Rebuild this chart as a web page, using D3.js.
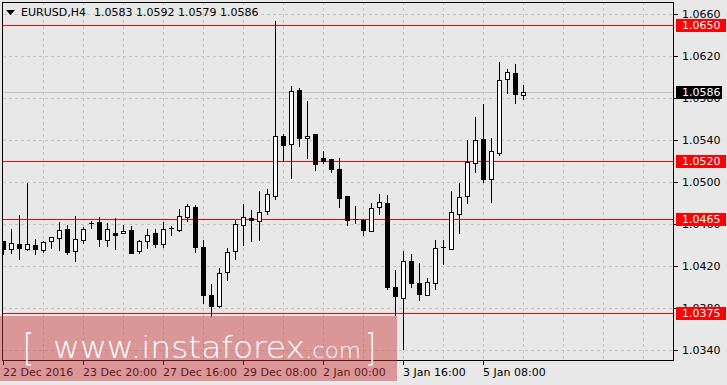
<!DOCTYPE html>
<html>
<head>
<meta charset="utf-8">
<script src="https://cdn.jsdelivr.net/npm/d3@7/dist/d3.min.js"></script>
<style>
  body { margin: 0; background: #e8e8e8; }
  svg { display: block; }
</style>
</head>
<body>
<svg id="chart" width="727" height="385"></svg>
<script>
// EURUSD H4 candles (one value per bar, left to right)
const openP  = [1.0444,1.0436,1.0441,1.0436,1.0440,1.0435,1.0444,1.0447,1.0455,1.0434,
                1.0445,1.0461,1.0462,1.0445,1.0451,1.0451,1.0454,1.0434,1.0444,1.0451,
                1.0441,1.0456,1.0454,1.0467,1.0476,1.0438,1.0392,1.0382,1.0414,1.0434,
                1.0459,1.0466,1.0463,1.0472,1.0487,1.0544,1.0536,1.0588,1.0542,1.0546,
                1.0523,1.0522,1.0512,1.0487,1.0465,1.0464,1.0453,1.0476,1.0480,1.0400,
                1.0390,1.0425,1.0404,1.0392,1.0404,1.0438,1.0436,1.0470,1.0487,1.0518,
                1.0541,1.0503,1.0528,1.0598,1.0604,1.0583];
const highP  = [1.0444,1.0455,1.0469,1.0499,1.0446,1.0444,1.0448,1.0462,1.0459,1.0468,
                1.0457,1.0463,1.0467,1.0461,1.0466,1.0459,1.0458,1.0445,1.0455,1.0455,
                1.0462,1.0458,1.0474,1.0479,1.0478,1.0445,1.0403,1.0418,1.0437,1.0464,
                1.0479,1.0473,1.0491,1.0493,1.0653,1.0546,1.0591,1.0590,1.0577,1.0546,
                1.0530,1.0522,1.0523,1.0487,1.0477,1.0465,1.0480,1.0489,1.0488,1.0416,
                1.0434,1.0431,1.0423,1.0409,1.0445,1.0445,1.0491,1.0499,1.0540,1.0562,
                1.0574,1.0542,1.0614,1.0608,1.0612,1.0592];
const lowP   = [1.0431,1.0432,1.0427,1.0435,1.0431,1.0433,1.0437,1.0435,1.0431,1.0425,
                1.0442,1.0456,1.0439,1.0439,1.0436,1.0451,1.0432,1.0432,1.0437,1.0438,
                1.0438,1.0450,1.0453,1.0463,1.0433,1.0385,1.0372,1.0381,1.0407,1.0427,
                1.0440,1.0444,1.0445,1.0470,1.0484,1.0520,1.0504,1.0534,1.0523,1.0511,
                1.0518,1.0510,1.0476,1.0459,1.0461,1.0450,1.0453,1.0470,1.0398,1.0373,
                1.0341,1.0400,1.0388,1.0392,1.0398,1.0422,1.0436,1.0451,1.0480,1.0510,
                1.0500,1.0481,1.0526,1.0585,1.0575,1.0579];
const closeP = [1.0436,1.0442,1.0437,1.0441,1.0436,1.0443,1.0448,1.0454,1.0433,1.0446,
                1.0455,1.0461,1.0446,1.0455,1.0450,1.0453,1.0432,1.0444,1.0450,1.0441,
                1.0455,1.0456,1.0468,1.0477,1.0438,1.0392,1.0382,1.0413,1.0433,1.0460,
                1.0467,1.0464,1.0471,1.0489,1.0544,1.0535,1.0587,1.0542,1.0544,1.0517,
                1.0520,1.0512,1.0485,1.0464,1.0465,1.0454,1.0475,1.0481,1.0400,1.0391,
                1.0425,1.0404,1.0393,1.0405,1.0437,1.0438,1.0471,1.0486,1.0519,1.0540,
                1.0503,1.0530,1.0597,1.0605,1.0584,1.0586];

const priceTicks = [1.0340,1.0380,1.0420,1.0460,1.0500,1.0540,1.0580,1.0620,1.0660];
const timeTickBars = [0,10,20,30,40,50,60];
const timeTickLabels = ["22 Dec 2016","23 Dec 20:00","27 Dec 16:00","29 Dec 08:00",
                        "2 Jan 00:00","3 Jan 16:00","5 Jan 08:00"];
const levelLines = [1.0650,1.0520,1.0465,1.0375];
const lastPrice = 1.0586;
const titleText = "EURUSD,H4";
const titleValues = "1.0583 1.0592 1.0579 1.0586";

const svg = d3.select("#chart");
const width = 727, height = 385;
const plot = { left: 3, right: 674, top: 2, bottom: 361 };

svg.append("rect")
    .attr("width", width).attr("height", height)
    .attr("fill", "#e8e8e8");

// bar index -> x, price -> y
const xScale = d3.scaleLinear().domain([0, 65]).range([3, 523]);
const yScale = d3.scaleLinear().domain([1.0340, 1.0660]).range([350, 14]);
const px = v => Math.round(v) + 0.5;

svg.append("clipPath").attr("id", "plotClip")
    .append("rect")
    .attr("x", plot.left).attr("y", plot.top)
    .attr("width", plot.right - plot.left).attr("height", plot.bottom - plot.top);

const grid = svg.append("g").attr("clip-path", "url(#plotClip)");

// dashed grid: every 5 bars and every price tick
grid.selectAll(".vgrid")
    .data(d3.range(5, 85, 5))
    .enter().append("line")
    .attr("x1", d => px(xScale(d))).attr("x2", d => px(xScale(d)))
    .attr("y1", plot.top).attr("y2", plot.bottom)
    .attr("stroke", "#c4c4c4").attr("stroke-dasharray", "3,3");

grid.selectAll(".hgrid")
    .data(priceTicks)
    .enter().append("line")
    .attr("x1", plot.left).attr("x2", plot.right)
    .attr("y1", d => px(yScale(d))).attr("y2", d => px(yScale(d)))
    .attr("stroke", "#c4c4c4").attr("stroke-dasharray", "3,3");

// last price line
grid.append("line")
    .attr("x1", plot.left).attr("x2", plot.right)
    .attr("y1", px(yScale(lastPrice))).attr("y2", px(yScale(lastPrice)))
    .attr("stroke", "#c0c0c0");

// support / resistance
grid.selectAll(".level")
    .data(levelLines)
    .enter().append("line")
    .attr("x1", plot.left).attr("x2", plot.right)
    .attr("y1", d => px(yScale(d))).attr("y2", d => px(yScale(d)))
    .attr("stroke", "#ff0000");

// candles
const candles = d3.range(openP.length).map(i => ({
    i: i, o: openP[i], h: highP[i], l: lowP[i], c: closeP[i]
}));

const candleG = grid.selectAll(".candle")
    .data(candles)
    .enter().append("g").attr("class", "candle");

candleG.append("line")
    .attr("x1", d => px(xScale(d.i))).attr("x2", d => px(xScale(d.i)))
    .attr("y1", d => Math.round(yScale(d.h))).attr("y2", d => Math.round(yScale(d.l)) + 1)
    .attr("stroke", "#000");

candleG.each(function (d) {
    const g = d3.select(this);
    const cx = px(xScale(d.i));
    const top = Math.round(yScale(Math.max(d.o, d.c)));
    const bot = Math.round(yScale(Math.min(d.o, d.c)));
    if (bot - top < 1) {
        g.append("line")
            .attr("x1", cx - 2.5).attr("x2", cx + 2.5)
            .attr("y1", top + 0.5).attr("y2", top + 0.5)
            .attr("stroke", "#000");
    } else {
        g.append("rect")
            .attr("x", cx - 2).attr("y", top + 0.5)
            .attr("width", 4).attr("height", bot - top)
            .attr("fill", d.c >= d.o ? "#fff" : "#000")
            .attr("stroke", "#000");
    }
});

// frame
svg.append("rect")
    .attr("x", plot.left - 0.5).attr("y", plot.top + 0.5)
    .attr("width", plot.right - plot.left).attr("height", plot.bottom - plot.top - 1)
    .attr("fill", "none").attr("stroke", "#000");

// right price axis
const axisFont = "'DejaVu Sans', Verdana, sans-serif";
svg.selectAll(".ytick")
    .data(priceTicks)
    .enter().append("line")
    .attr("x1", plot.right).attr("x2", plot.right + 4)
    .attr("y1", d => px(yScale(d))).attr("y2", d => px(yScale(d)))
    .attr("stroke", "#000");

svg.selectAll(".ylabel")
    .data(priceTicks)
    .enter().append("text")
    .attr("x", 682).attr("y", d => Math.round(yScale(d)) + 4)
    .style("font-family", axisFont).style("font-size", "11px")
    .attr("fill", "#000")
    .text(d => d.toFixed(4));

// level labels
const tags = levelLines.map(v => ({ v: v, bg: "#ff0000", w: 50 }))
    .concat([{ v: lastPrice, bg: "#000", w: 46 }]);

const tagG = svg.selectAll(".tag")
    .data(tags)
    .enter().append("g");
tagG.append("rect")
    .attr("x", 676).attr("y", d => Math.round(yScale(d.v)) - 6)
    .attr("width", d => d.w).attr("height", 13)
    .attr("fill", d => d.bg);
tagG.append("text")
    .attr("x", 682).attr("y", d => Math.round(yScale(d.v)) + 4)
    .style("font-family", axisFont).style("font-size", "11px")
    .attr("fill", "#fff")
    .text(d => d.v.toFixed(4));

// bottom time axis
svg.selectAll(".xtick")
    .data(timeTickBars)
    .enter().append("line")
    .attr("x1", d => px(xScale(d))).attr("x2", d => px(xScale(d)))
    .attr("y1", plot.bottom).attr("y2", plot.bottom + 4)
    .attr("stroke", "#000");

svg.selectAll(".xlabel")
    .data(timeTickBars)
    .enter().append("text")
    .attr("x", d => Math.round(xScale(d)))
    .attr("y", 376)
    .style("font-family", axisFont).style("font-size", "11px")
    .attr("fill", "#000")
    .text((d, i) => timeTickLabels[i]);

// title
svg.append("path")
    .attr("d", "M6,10 L15,10 L10.5,15 Z")
    .attr("fill", "#000");
svg.append("text")
    .attr("x", 21).attr("y", 16)
    .style("font-family", axisFont).style("font-size", "11px")
    .text(titleText);
svg.append("text")
    .attr("x", 94).attr("y", 16)
    .style("font-family", axisFont).style("font-size", "11px")
    .text(titleValues);

// watermark
const wm = svg.append("g");
wm.append("rect")
    .attr("x", 0).attr("y", 316)
    .attr("width", 397).attr("height", 65)
    .attr("fill", "rgb(205,50,55)").attr("fill-opacity", 0.45);
const wmText = (str, x, y, size, len) => wm.append("text")
    .attr("x", x).attr("y", y)
    .attr("textLength", len).attr("lengthAdjust", "spacingAndGlyphs")
    .style("font-family", axisFont).style("font-size", size + "px")
    .style("font-weight", 300)
    .attr("fill", "#fff")
    .text(str);
wmText("[", 23, 360, 38, 11);
wmText("www.instaforex", 53, 358, 31, 252);
wmText(".com", 305, 358, 22, 56);
wmText("]", 365, 360, 38, 11);
</script>
</body>
</html>
